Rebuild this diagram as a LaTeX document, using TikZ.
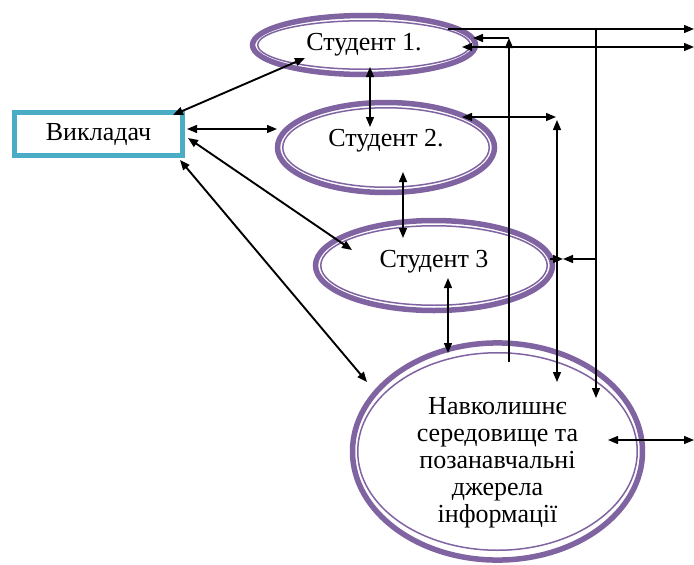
\documentclass[tikz,border=0pt]{standalone}
\usepackage{fontspec}
\setmainfont{Liberation Serif}
\newfontfamily\labelfont{Liberation Serif}
\usetikzlibrary{arrows.meta,shapes.geometric}
\definecolor{ringviolet}{HTML}{8064A2}
\definecolor{boxteal}{HTML}{4BACC6}

\begin{document}
\begin{tikzpicture}[
    x=1pt, y=-1pt,
    font=\labelfont\fontsize{26}{27}\selectfont,
    teacher/.style={rectangle, draw=boxteal, line width=4.5pt, minimum width=168pt, minimum height=43pt},
    ring/.style={ellipse, draw=ringviolet, line width=5.5pt, inner sep=0pt, align=center},
    ringin/.style={ellipse, draw=ringviolet, line width=1.5pt, inner sep=0pt},
    twoway/.style={{Triangle[length=10pt,width=8pt]}-{Triangle[length=10pt,width=8pt]}, line width=1.3pt},
    oneway/.style={-{Triangle[length=10pt,width=8pt]}, line width=1.3pt},
    diag/.style={twoway, line width=1.9pt}
]
\useasboundingbox (0,0) rectangle (694,565);

% Teacher and students
\node[teacher] (teach) at (98.5,134) {Викладач};
\node[ring, minimum width=223pt, minimum height=59pt] (s1) at (364,45) {Студент 1.};
\node[ringin, minimum width=212.5pt, minimum height=48.5pt] (s1in) at (s1) {};
\node[ring, minimum width=217pt, minimum height=90pt, text depth=19pt] (s2) at (386,147.5) {Студент 2.};
\node[ringin, minimum width=206.5pt, minimum height=79.5pt] (s2in) at (s2) {};
\node[ring, minimum width=237pt, minimum height=90pt, text depth=14pt] (s3) at (434,265.5) {Студент 3};
\node[ringin, minimum width=226.5pt, minimum height=79.5pt] (s3in) at (s3) {};

% Environment
\node[ring, minimum width=290pt, minimum height=208pt] (env) at (497.5,451.5)
    {\rule{0pt}{40pt}Навколишнє\\середовище та\\позанавчальні\\джерела\\інформації};
\node[ringin, minimum width=279.5pt, minimum height=197.5pt] (envin) at (env) {};

% Connector ends
\coordinate (tA) at (173,115);   \coordinate (s1A) at (305,58);
\coordinate (tB) at (187,129);   \coordinate (s2B) at (277,129);
\coordinate (tC) at (188,138);   \coordinate (s3C) at (352,250);
\coordinate (tD) at (180,160);   \coordinate (envD) at (367,382);
\coordinate (s1E) at (370,67);   \coordinate (s2E) at (370,127);
\coordinate (s2F) at (403,172);  \coordinate (s3F) at (403,238);
\coordinate (s3G) at (448,278);  \coordinate (envG) at (448,353);

\coordinate (s1top) at (448,29); \coordinate (outtop) at (694,29);
\coordinate (s1mid) at (462,47); \coordinate (outmid) at (694,47);
\coordinate (s1low) at (473,38); \coordinate (bendA) at (509,38);
\coordinate (envA) at (509,362);
\coordinate (busB) at (596,29);  \coordinate (envB) at (596,398);
\coordinate (busB3) at (596,259); \coordinate (s3R) at (563,259);
\coordinate (s3edge) at (550,259);
\coordinate (s2R) at (462,117);  \coordinate (busC) at (556,117);
\coordinate (busCtop) at (557,120); \coordinate (envC) at (557,382);
\coordinate (envR) at (608,440); \coordinate (outenv) at (694,440);

% Teacher links
\draw[diag] (tA) -- (s1A);
\draw[twoway] (tB) -- (s2B);
\draw[diag] (tC) -- (s3C);
\draw[diag] (tD) -- (envD);

% Student links
\draw[twoway] (s1E) -- (s2E);
\draw[twoway] (s2F) -- (s3F);
\draw[twoway] (s3G) -- (envG);

% Right side
\draw[oneway] (s1top) -- (outtop);
\draw[twoway] (s1mid) -- (outmid);
\draw[oneway] (envA) -- (bendA);
\draw[oneway] (bendA) -- (s1low);
\draw[oneway] (busB) -- (envB);
\draw[oneway] (busB3) -- (s3R);
\draw[oneway] (s3edge) -- (s3R);
\draw[twoway] (s2R) -- (busC);
\draw[twoway] (busCtop) -- (envC);
\draw[twoway] (envR) -- (outenv);

\end{tikzpicture}
\end{document}
